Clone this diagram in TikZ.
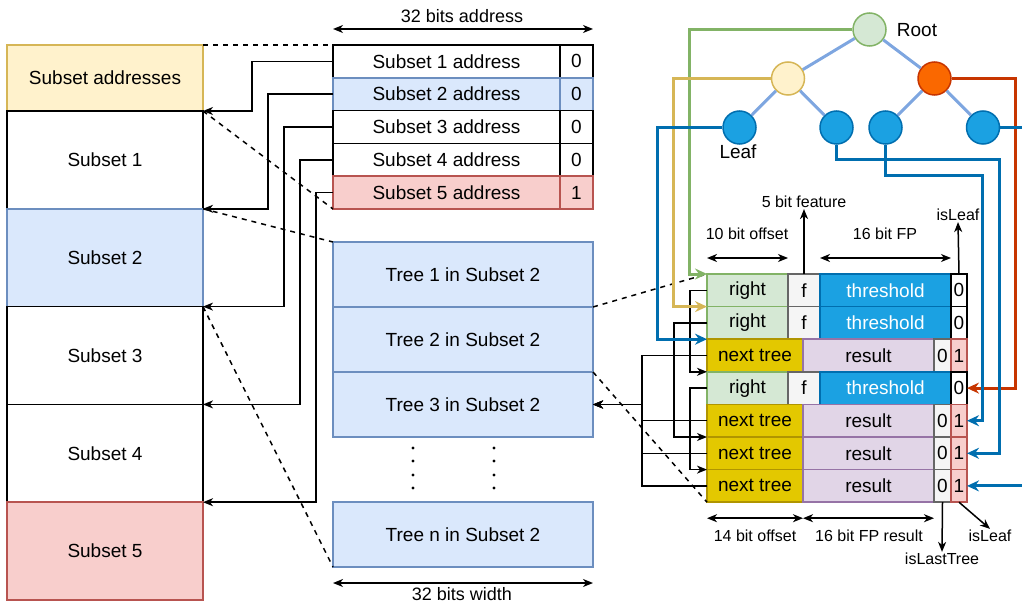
\documentclass[tikz,border=0pt]{standalone}
\usepackage{fontspec}
\setmainfont{Liberation Sans}
\usetikzlibrary{arrows.meta,positioning}
\definecolor{yfill}{HTML}{FFF2CC}
\definecolor{ydraw}{HTML}{D6B656}
\definecolor{bfill}{HTML}{DAE8FC}
\definecolor{bdraw}{HTML}{6C8EBF}
\definecolor{rfill}{HTML}{F8CECC}
\definecolor{rdraw}{HTML}{B85450}
\definecolor{gfill}{HTML}{D5E8D4}
\definecolor{gdraw}{HTML}{82B366}
\definecolor{qfill}{HTML}{F5F5F5}
\definecolor{qdraw}{HTML}{666666}
\definecolor{tfill}{HTML}{1BA1E2}
\definecolor{tdraw}{HTML}{006EAF}
\definecolor{nfill}{HTML}{E3C800}
\definecolor{ndraw}{HTML}{B09500}
\definecolor{pfill}{HTML}{E1D5E7}
\definecolor{pdraw}{HTML}{9673A6}
\definecolor{ofill}{HTML}{FA6800}
\definecolor{odraw}{HTML}{C73500}
\definecolor{edgeblue}{HTML}{7EA6E0}
\tikzset{
  cell/.style={draw, rectangle, inner sep=0pt, outer sep=0pt, line width=1.5pt, font=\fontsize{19}{22}\selectfont},
  wcell/.style={cell, fill=white, draw=black},
  ycell/.style={cell, fill=yfill, draw=ydraw},
  bcell/.style={cell, fill=bfill, draw=bdraw},
  rcell/.style={cell, fill=rfill, draw=rdraw},
  gcell/.style={cell, fill=gfill, draw=gdraw},
  fcell/.style={cell, fill=qfill, draw=qdraw},
  tcell/.style={cell, fill=tfill, draw=tdraw, text=white},
  ntcell/.style={cell, fill=nfill, draw=ndraw},
  rscell/.style={cell, fill=pfill, draw=pdraw},
  colbox/.style={minimum width=196pt, minimum height=97.8pt},
  adrow/.style={minimum width=227pt, minimum height=32.8pt},
  adbit/.style={minimum width=33pt, minimum height=32.8pt},
  trrow/.style={minimum width=260pt, minimum height=65pt},
  rowh/.style={minimum height=32.6pt},
  circ/.style={draw, circle, minimum size=33pt, inner sep=0pt, line width=1.5pt},
  gnode/.style={circ, fill=gfill, draw=gdraw},
  ynode/.style={circ, fill=yfill, draw=ydraw},
  onode/.style={circ, fill=ofill, draw=odraw},
  lnode/.style={circ, fill=tfill, draw=tdraw},
  txt/.style={font=\fontsize{19}{22}\selectfont, inner sep=1pt},
  lbl/.style={font=\fontsize{16}{19}\selectfont, inner sep=1pt},
  biglbl/.style={font=\fontsize{18}{21}\selectfont, inner sep=1pt},
  arr/.style={-{Stealth[length=10pt, width=8pt, inset=3pt]}, line width=1.5pt},
  darr/.style={{Stealth[length=10pt, width=8pt, inset=3pt]}-{Stealth[length=10pt, width=8pt, inset=3pt]}, line width=1.5pt},
  dline/.style={dash pattern=on 5pt off 5pt, line width=1.5pt},
  tedge/.style={draw=edgeblue, line width=3pt},
  carr/.style={-{Stealth[length=12pt, width=11pt, inset=4pt]}, line width=3pt},
  garr/.style={carr, draw=gdraw},
  yarr/.style={carr, draw=ydraw},
  oarr/.style={carr, draw=odraw},
  barr/.style={carr, draw=tdraw},
}

\begin{document}
\begin{tikzpicture}[x=1pt, y=-1pt, node distance=0pt]
\clip (0,0) rectangle (1022,604);

\node[ycell, colbox, minimum height=66pt, anchor=north west] (sadr) at (7,45) {Subset addresses};
\node[wcell, colbox, below=of sadr] (sub1) {Subset 1};
\node[bcell, colbox, below=of sub1] (sub2) {Subset 2};
\node[wcell, colbox, below=of sub2] (sub3) {Subset 3};
\node[wcell, colbox, below=of sub3] (sub4) {Subset 4};
\node[rcell, colbox, below=of sub4] (sub5) {Subset 5};

\node[wcell, adrow, anchor=north west] (ad1) at (333,45) {Subset 1 address};
\node[wcell, adbit, right=of ad1] (bt1) {0};
\node[bcell, adrow, below=of ad1] (ad2) {Subset 2 address};
\node[bcell, adbit, right=of ad2] (bt2) {0};
\node[wcell, adrow, below=of ad2] (ad3) {Subset 3 address};
\node[wcell, adbit, right=of ad3] (bt3) {0};
\node[wcell, adrow, below=of ad3] (ad4) {Subset 4 address};
\node[wcell, adbit, right=of ad4] (bt4) {0};
\node[rcell, adrow, below=of ad4] (ad5) {Subset 5 address};
\node[rcell, adbit, right=of ad5] (bt5) {1};

\node[biglbl] (adrlbl) at (462,16) {32 bits address};
\draw[darr] ([yshift=16pt]ad1.north west) -- ([yshift=16pt]bt1.north east);

\node[bcell, trrow, anchor=north west] (tr1) at (333,242) {Tree 1 in Subset 2};
\node[bcell, trrow, below=of tr1] (tr2) {Tree 2 in Subset 2};
\node[bcell, trrow, below=of tr2] (tr3) {Tree 3 in Subset 2};
\node[bcell, trrow, anchor=north west] (trn) at (333,502) {Tree n in Subset 2};
\foreach \y in {448,461,475,488} {
  \fill (413,\y) circle (1.7pt);
  \fill (494,\y) circle (1.7pt);
}

\node[biglbl] (widlbl) at (462,594) {32 bits width};
\draw[darr] ([yshift=-16pt]trn.south west) -- ([yshift=-16pt]trn.south east);

\draw[dline] (sadr.north east) -- (ad1.north west);
\draw[dline] (sadr.south east) -- (ad5.south west);
\draw[dline] (sub2.north east) -- (tr1.north west);
\draw[dline] (sub2.south east) -- (trn.south west);

\draw[arr] (ad1.west) -- ++(-81,0) |- (sub1.north east);
\draw[arr] (ad2.west) -- ++(-65,0) |- (sub2.north east);
\draw[arr] (ad3.west) -- ++(-49,0) |- (sub3.north east);
\draw[arr] (ad4.west) -- ++(-33,0) |- (sub4.north east);
\draw[arr] (ad5.west) -- ++(-17,0) |- (sub5.north east);

\node[gnode] (root) at (869.5,29.5) {};
\node[ynode] (yel) at (788,78.5) {};
\node[onode] (org) at (934.5,78.5) {};
\node[lnode] (lf1) at (739.5,127.5) {};
\node[lnode] (lf2) at (836.5,127.5) {};
\node[lnode] (lf3) at (885.5,127.5) {};
\node[lnode] (lf4) at (983,127.5) {};
\node[txt] (rootlbl) at (917,30) {Root};
\node[txt] (leaflbl) at (738,152) {Leaf};

\draw[tedge] (root) -- (yel);
\draw[tedge] (root) -- (org);
\draw[tedge] (yel) -- (lf1);
\draw[tedge] (yel) -- (lf2);
\draw[tedge] (org) -- (lf3);
\draw[tedge] (org) -- (lf4);

\node[gcell, rowh, minimum width=81pt, anchor=north west] (r1) at (707,274) {right};
\node[fcell, rowh, minimum width=32pt, right=of r1] (f1) {f};
\node[tcell, rowh, minimum width=131pt, right=of f1] (t1) {threshold};
\node[wcell, rowh, minimum width=16pt, right=of t1] (z1) {0};

\node[gcell, rowh, minimum width=81pt, below=of r1] (r2) {right};
\node[fcell, rowh, minimum width=32pt, right=of r2] (f2) {f};
\node[tcell, rowh, minimum width=131pt, right=of f2] (t2) {threshold};
\node[wcell, rowh, minimum width=16pt, right=of t2] (z2) {0};

\node[ntcell, rowh, minimum width=96pt, below right=of r2.south west] (n3) {next tree};
\node[rscell, rowh, minimum width=131pt, right=of n3] (res3) {result};
\node[fcell, rowh, minimum width=17pt, right=of res3] (q3) {0};
\node[rcell, rowh, minimum width=16pt, right=of q3] (o3) {1};

\node[gcell, rowh, minimum width=81pt, below right=of n3.south west] (r4) {right};
\node[fcell, rowh, minimum width=32pt, right=of r4] (f4) {f};
\node[tcell, rowh, minimum width=131pt, right=of f4] (t4) {threshold};
\node[wcell, rowh, minimum width=16pt, right=of t4] (z4) {0};

\node[ntcell, rowh, minimum width=96pt, below right=of r4.south west] (n5) {next tree};
\node[rscell, rowh, minimum width=131pt, right=of n5] (res5) {result};
\node[fcell, rowh, minimum width=17pt, right=of res5] (q5) {0};
\node[rcell, rowh, minimum width=16pt, right=of q5] (o5) {1};

\node[ntcell, rowh, minimum width=96pt, below=of n5] (n6) {next tree};
\node[rscell, rowh, minimum width=131pt, right=of n6] (res6) {result};
\node[fcell, rowh, minimum width=17pt, right=of res6] (q6) {0};
\node[rcell, rowh, minimum width=16pt, right=of q6] (o6) {1};

\node[ntcell, rowh, minimum width=96pt, below=of n6] (n7) {next tree};
\node[rscell, rowh, minimum width=131pt, right=of n7] (res7) {result};
\node[fcell, rowh, minimum width=17pt, right=of res7] (q7) {0};
\node[rcell, rowh, minimum width=16pt, right=of q7] (o7) {1};

\draw[dline] (tr2.north east) -- (r1.north west);
\draw[dline] (tr3.north east) -- (n7.south west);

\node[lbl] (featlbl) at (804,202) {5 bit feature};
\draw[arr] (f1.north) -- (featlbl.south);
\node[lbl] (leaflbl1) at (958,215) {isLeaf};
\draw[arr] (z1.north) -- (leaflbl1.south);
\node[lbl] (offlbl) at (747,234) {10 bit offset};
\draw[darr] ([yshift=16pt]r1.north west) -- ([yshift=16pt]r1.north east);
\node[lbl] (fplbl) at (885,234) {16 bit FP};
\draw[darr] ([yshift=16pt]t1.north west) -- ([yshift=16pt]t1.north east);

\node[lbl] (off14lbl) at (755,536) {14 bit offset};
\draw[darr] ([yshift=-16pt]n7.south west) -- ([yshift=-16pt]n7.south east);
\node[lbl] (reslbl) at (869,536) {16 bit FP result};
\draw[darr] ([yshift=-16pt]res7.south west) -- ([yshift=-16pt]res7.south east);
\node[lbl] (lastlbl) at (942,559) {isLastTree};
\draw[arr] (q7.south) -- (lastlbl.north);
\node[lbl] (leaflbl2) at (990,536) {isLeaf};
\draw[arr] (o7.south) -- (leaflbl2.north);

\foreach \n in {n3,n5,n6,n7}
  \draw[arr] (\n.west) -- ++(-65,0) |- (tr3.east);
\draw[arr] (r1.west) -- ++(-17,0) |- (r4.north west);
\draw[arr] (r2.west) -- ++(-33,0) |- (n6.north west);
\draw[arr] (r4.west) -- ++(-17,0) |- (n7.north west);

\draw[garr] (root.west) -| ([xshift=-18pt]r1.north west) -- (r1.north west);
\draw[yarr] (yel.west) -| ([xshift=-34pt]r2.north west) -- (r2.north west);
\draw[barr] (lf1.west) -| ([xshift=-50pt]n3.north west) -- (n3.north west);
\draw[oarr] (org.east) -| ([xshift=48pt]z4.east) -- (z4.east);
\draw[barr] (lf2.south) -- ++(0,15) -| ([xshift=32pt]o6.east) -- (o6.east);
\draw[barr] (lf3.south) -- ++(0,31) -| ([xshift=15pt]o5.east) -- (o5.east);
\draw[barr] (lf4.east) -| ([xshift=64pt]o7.east) -- (o7.east);

\end{tikzpicture}
\end{document}
